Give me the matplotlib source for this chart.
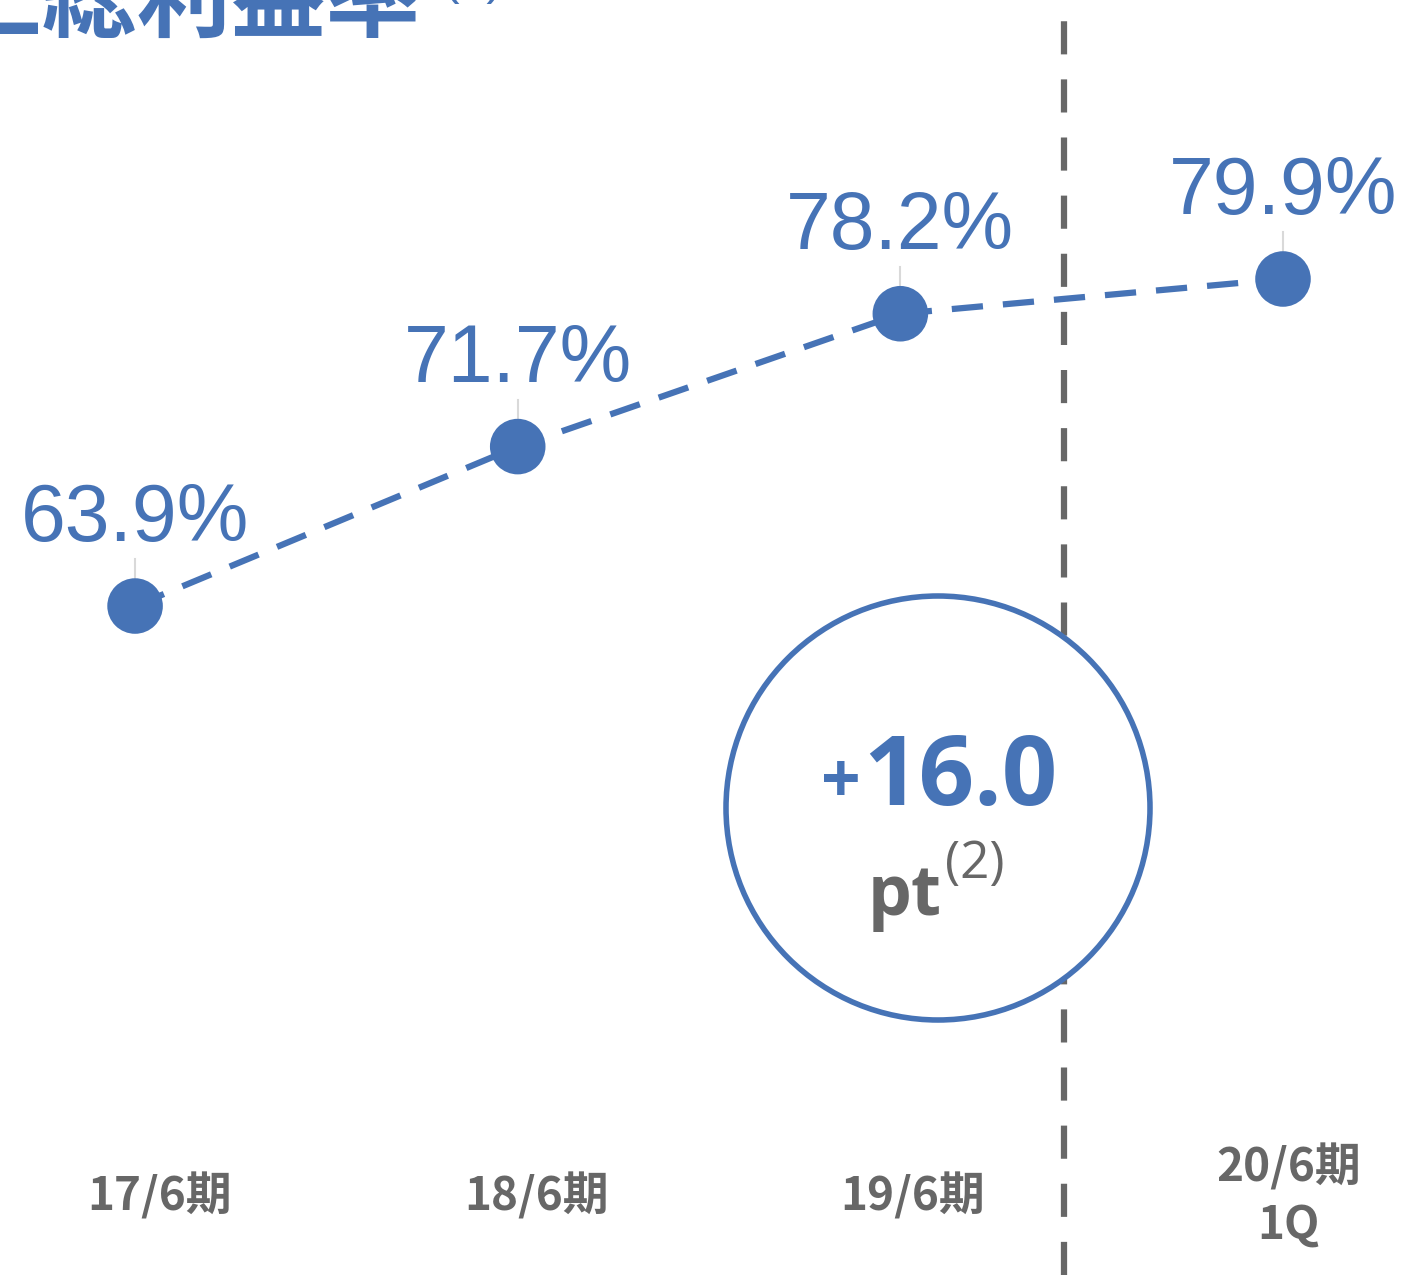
import matplotlib.pyplot as plt
from matplotlib.patches import Circle

plt.rcParams['font.family'] = ['Liberation Sans', 'Noto Sans CJK JP', 'DejaVu Sans']

periods = ['17/6期', '18/6期', '19/6期', '20/6期\n1Q']
margin = [63.9, 71.7, 78.2, 79.9]
labels = ['63.9%', '71.7%', '78.2%', '79.9%']
change = '16.0'

blue = '#4673B6'
grey = '#676767'

fig = plt.figure(figsize=(14.02, 12.75), dpi=100)
ax = fig.add_axes([0, 0, 1, 1])
ax.set_xlim(-0.353, 3.311)
ax.set_ylim(31.17, 93.55)
ax.axis('off')

xs = list(range(len(margin)))
ax.plot(xs, margin, color=blue, lw=4.5, ls=(0, (5, 3.2)), zorder=3)
ax.scatter(xs, margin, s=1600, color=blue, zorder=4, edgecolors='none')

for x, v, t in zip(xs, margin, labels):
    ax.plot([x, x], [v + 0.7, v + 2.3], color='#d9d9d9', lw=1.5, zorder=2)
    ax.text(x, v + 2.35, t, ha='center', va='bottom', fontsize=58,
            color=blue, zorder=5)

# divider between full-year and quarter figures
ax.axvline(2.428, color=grey, lw=4.5, ls=(0, (5.3, 4)), zorder=1)

for x, p in zip(xs, periods):
    ax.text(x * 0.983 + 0.065, 35.0, p, ha='center', va='center',
            fontsize=33, fontweight='bold', color=grey,
            family=['Noto Sans CJK JP'], linespacing=1.3, zorder=5)

# change badge
circ = Circle((9.38, 4.67), 2.12, transform=fig.dpi_scale_trans,
              facecolor='white', edgecolor=blue, lw=4, zorder=6)
fig.add_artist(circ)
fig.text(0.5995, 0.370, '+', ha='center', va='baseline', fontsize=50,
         fontweight='bold', color=blue, family=['Open Sans'], zorder=7)
fig.text(0.6155, 0.369, change, ha='left', va='baseline', fontsize=70,
         fontweight='bold', color=blue, family=['Open Sans'], zorder=7)
fig.text(0.645, 0.282, 'pt', ha='center', va='baseline', fontsize=50,
         fontweight='bold', color=grey, family=['Open Sans'], zorder=7)
fig.text(0.674, 0.311, '(2)', ha='left', va='baseline', fontsize=37,
         color=grey, family=['Open Sans'], zorder=7)

# section title, clipped by the top edge
fig.text(-0.105, 1 - 31 / 1275, '売上総利益率', ha='left', va='baseline',
         fontsize=68, fontweight='bold', color=blue,
         family=['Noto Sans CJK JP'])
fig.text(0.316, 1 + 6 / 1275, '(1)', ha='left', va='baseline', fontsize=36,
         color=blue)

fig.savefig('out.png', dpi=100)
